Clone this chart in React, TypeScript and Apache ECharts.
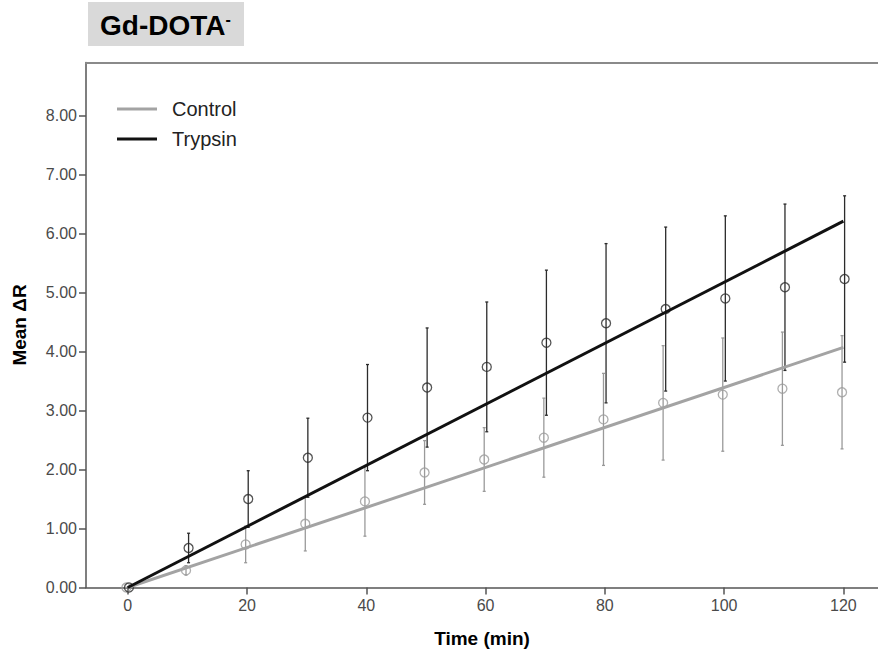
import React, { useEffect, useRef } from "react";
import * as echarts from "echarts";

// ---- data ----
const times = [0, 10, 20, 30, 40, 50, 60, 70, 80, 90, 100, 110, 120];
const controlMean = [0, 0.29, 0.73, 1.08, 1.46, 1.95, 2.17, 2.54, 2.85, 3.13, 3.27, 3.37, 3.31];
const controlErr = [0, 0.08, 0.31, 0.46, 0.59, 0.54, 0.54, 0.67, 0.78, 0.97, 0.96, 0.96, 0.96];
const trypsinMean = [0, 0.67, 1.5, 2.2, 2.88, 3.39, 3.74, 4.15, 4.48, 4.72, 4.9, 5.09, 5.23];
const trypsinErr = [0, 0.25, 0.48, 0.67, 0.9, 1.01, 1.1, 1.23, 1.35, 1.39, 1.4, 1.41, 1.41];
const fitX = [0, 120];
const controlFit = [0, 4.07];
const trypsinFit = [0, 6.21];
const xTicks = [0, 20, 40, 60, 80, 100, 120];
const yTicks = [0, 1, 2, 3, 4, 5, 6, 7, 8];

const FONT = "'Liberation Sans', Arial, sans-serif";
const CONTROL_COLOR = "#a3a3a3";
const TRYPSIN_COLOR = "#111111";
const X_MIN = -7;
const X_MAX = 125.8;

export default function App() {
  const ref = useRef<HTMLDivElement>(null);

  useEffect(() => {
    if (!ref.current) return;
    const chart = echarts.init(ref.current, undefined, { renderer: "svg" });

    const ctrlOff = -0.23;
    const tryOff = 0.2;

    const errData = (mean: number[], err: number[], off: number) =>
      times.map((t, i) => [t + off, mean[i] - err[i], mean[i] + err[i]]);

    const errRender = (color: string) => (params: any, api: any) => {
      const x = api.value(0);
      const lo = api.value(1);
      const hi = api.value(2);
      const p1 = api.coord([x, hi]);
      const p2 = api.coord([x, lo]);
      const st = { stroke: color, lineWidth: 1.3 };
      return {
        type: "group",
        children: [
          { type: "line", shape: { x1: p1[0], y1: p1[1], x2: p2[0], y2: p2[1] }, style: st },
          { type: "line", shape: { x1: p1[0] - 1.5, y1: p1[1], x2: p1[0] + 1.5, y2: p1[1] }, style: st },
          { type: "line", shape: { x1: p2[0] - 1.5, y1: p2[1], x2: p2[0] + 1.5, y2: p2[1] }, style: st },
        ],
      };
    };

    const option: any = {
      animation: false,
      backgroundColor: "#ffffff",
      graphic: [
        {
          type: "rect",
          shape: { x: 88, y: 2, width: 156, height: 44 },
          style: { fill: "#d9d9d9" },
        },
        {
          type: "text",
          x: 100,
          y: 25,
          style: {
            text: "{m|Gd-DOTA}{s|-}",
            verticalAlign: "middle",
            rich: {
              m: { fontFamily: FONT, fontSize: 28, fontWeight: "bold", fill: "#000" },
              s: { fontFamily: FONT, fontSize: 16, fontWeight: "bold", fill: "#000", verticalAlign: "top" },
            },
          },
        },
      ],
      legend: {
        data: ["Control", "Trypsin"],
        orient: "vertical",
        left: 112,
        top: 94,
        icon: "rect",
        itemWidth: 40,
        itemHeight: 3,
        itemGap: 10,
        textStyle: { fontFamily: FONT, fontSize: 20, color: "#222", padding: [0, 0, 0, 10] },
        selectedMode: false,
      },
      grid: {
        left: 86,
        top: 62.5,
        right: 0,
        height: 525,
        show: false,
      },
      xAxis: [
        {
          type: "value",
          min: X_MIN,
          max: X_MAX,
          name: "Time (min)",
          nameLocation: "middle",
          nameGap: 41,
          nameTextStyle: { fontFamily: FONT, fontSize: 19, fontWeight: "bold", color: "#000" },
          axisLine: { show: true, onZero: false, lineStyle: { color: "#555", width: 1.5 } },
          axisTick: { show: true, length: 7, lineStyle: { color: "#555", width: 1.5 }, customValues: xTicks },
          axisLabel: {
            fontFamily: FONT,
            fontSize: 16,
            color: "#4a4a4a",
            margin: 10,
            customValues: xTicks,
          },
          splitLine: { show: false },
        },
        {
          type: "value",
          position: "top",
          min: X_MIN,
          max: X_MAX,
          axisLine: { show: true, onZero: false, lineStyle: { color: "#8a8a8a", width: 2 } },
          axisTick: { show: false },
          axisLabel: { show: false },
          splitLine: { show: false },
        },
      ],
      yAxis: {
        type: "value",
        min: 0,
        max: 8.9,
        name: "Mean ΔR",
        nameLocation: "middle",
        nameGap: 57,
        nameTextStyle: { fontFamily: FONT, fontSize: 19, fontWeight: "bold", color: "#000" },
        axisLine: { show: true, onZero: false, lineStyle: { color: "#555", width: 1.5 } },
        axisTick: { show: true, length: 7, lineStyle: { color: "#555", width: 1.5 }, customValues: yTicks },
        axisLabel: {
          fontFamily: FONT,
          fontSize: 16,
          color: "#4a4a4a",
          margin: 9,
          customValues: yTicks,
          formatter: (v: number) => v.toFixed(2),
        },
        splitLine: { show: false },
      },
      series: [
        {
          name: "Control SD",
          type: "custom",
          renderItem: errRender("#9a9a9a"),
          encode: { x: 0, y: [1, 2] },
          data: errData(controlMean, controlErr, ctrlOff),
          z: 2,
        },
        {
          name: "Trypsin SD",
          type: "custom",
          renderItem: errRender("#2b2b2b"),
          encode: { x: 0, y: [1, 2] },
          data: errData(trypsinMean, trypsinErr, tryOff),
          z: 2,
        },
        {
          name: "Control mean",
          type: "scatter",
          symbol: "circle",
          symbolSize: 9,
          itemStyle: { color: "rgba(255,255,255,0)", borderColor: "#9a9a9a", borderWidth: 1.3 },
          data: times.map((t, i) => [t + ctrlOff, controlMean[i]]),
          z: 3,
        },
        {
          name: "Trypsin mean",
          type: "scatter",
          symbol: "circle",
          symbolSize: 9,
          itemStyle: { color: "rgba(255,255,255,0)", borderColor: "#2a2a2a", borderWidth: 1.3 },
          data: times.map((t, i) => [t + tryOff, trypsinMean[i]]),
          z: 3,
        },
        {
          name: "Control",
          type: "line",
          showSymbol: false,
          symbol: "none",
          itemStyle: { color: CONTROL_COLOR },
          lineStyle: { color: CONTROL_COLOR, width: 3 },
          data: fitX.map((x, i) => [x, controlFit[i]]),
          z: 4,
        },
        {
          name: "Trypsin",
          type: "line",
          showSymbol: false,
          symbol: "none",
          itemStyle: { color: TRYPSIN_COLOR },
          lineStyle: { color: TRYPSIN_COLOR, width: 3 },
          data: fitX.map((x, i) => [x, trypsinFit[i]]),
          z: 4,
        },
      ],
    };

    chart.setOption(option);
    return () => chart.dispose();
  }, []);

  return (
    <div
      ref={ref}
      style={{ position: "absolute", left: 0, top: 0, width: 878, height: 657 }}
    />
  );
}
